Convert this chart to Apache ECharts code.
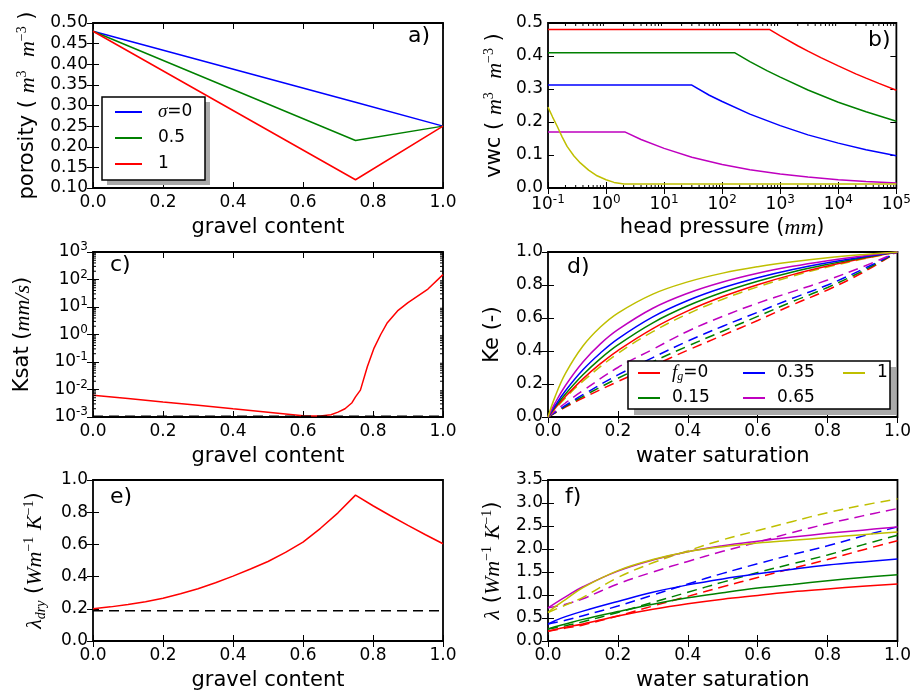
<!DOCTYPE html>
<html><head><meta charset="utf-8">
<script src="https://cdn.jsdelivr.net/npm/echarts@6/dist/echarts.min.js"></script>
<style>html,body{margin:0;padding:0;background:#fff}#c{width:914px;height:695px}</style>
</head><body><div id="c"></div>
<script>
// ---------------- DATA ----------------
// a) porosity vs gravel content
const aBlue  = [[0,0.48],[0.75,0.308],[1,0.25]];
const aGreen = [[0,0.48],[0.75,0.215],[1,0.25]];
const aRed   = [[0,0.48],[0.75,0.12],[1,0.25]];
// b) vwc vs head pressure (log x)
const bRed   = [[0.1,0.48],[660,0.48],[1000,0.461],[2000,0.431],[3000,0.415],[5000,0.395],[10000,0.37],[20000,0.346],[30000,0.333],[50000,0.317],[100000,0.296]];
const bGreen = [[0.1,0.41],[163,0.41],[300,0.383],[600,0.355],[1000,0.336],[3000,0.297],[10000,0.26],[30000,0.231],[100000,0.202]];
const bBlue  = [[0.1,0.312],[30,0.312],[60,0.281],[100,0.262],[300,0.224],[1000,0.189],[3000,0.161],[10000,0.136],[30000,0.116],[100000,0.098]];
const bMag   = [[0.1,0.17],[2.1,0.17],[4,0.147],[10,0.12],[30,0.093],[100,0.071],[300,0.0555],[1000,0.0424],[3000,0.033],[10000,0.0252],[30000,0.0196],[100000,0.015]];
const bYel   = [[0.1,0.245],[0.12,0.215],[0.144,0.187],[0.175,0.155],[0.213,0.126],[0.28,0.097],[0.36,0.076],[0.5,0.054],[0.7,0.037],[1.0,0.025],[1.37,0.017],[2.04,0.012],[100000,0.012]];
// c) Ksat vs gravel content (log y)
const cRed   = [[0,0.0062],[0.1,0.0047],[0.2,0.0035],[0.3,0.0027],[0.4,0.002],[0.5,0.0015],[0.6,0.00112],[0.65,0.00108],[0.68,0.0012],[0.7,0.0015],[0.72,0.002],[0.74,0.0033],[0.75,0.0054],[0.764,0.0095],[0.784,0.069],[0.803,0.32],[0.822,1.0],[0.841,2.7],[0.87,7.2],[0.9,14.5],[0.957,45],[1.0,150]];
const cDash  = [[0,0.00106],[1,0.00106]];
// d) Ke vs water saturation
const dSr = [0,0.02,0.05,0.1,0.15,0.2,0.3,0.4,0.5,0.6,0.7,0.8,0.9,1.0];
const dRed   = [0,0.052,0.124,0.231,0.323,0.403,0.536,0.643,0.730,0.802,0.863,0.915,0.960,1];
const dGreen = [0,0.060,0.140,0.256,0.354,0.437,0.571,0.674,0.756,0.823,0.879,0.925,0.965,1];
const dBlue  = [0,0.068,0.159,0.286,0.388,0.474,0.607,0.706,0.783,0.844,0.894,0.935,0.970,1];
const dMag   = [0,0.084,0.191,0.333,0.443,0.529,0.659,0.750,0.818,0.871,0.913,0.947,0.976,1];
const dYel   = [0,0.122,0.264,0.430,0.545,0.630,0.745,0.819,0.872,0.911,0.941,0.965,0.984,1];
const dSrD = [0,0.05,0.1,0.2,0.3,0.4,0.5,0.6,0.7,0.8,0.9,1.0];
const dRedD   = [0,0.060,0.115,0.215,0.310,0.405,0.495,0.585,0.680,0.770,0.875,1];
const dGreenD = [0,0.065,0.125,0.235,0.335,0.430,0.520,0.610,0.700,0.785,0.885,1];
const dBlueD  = [0,0.070,0.135,0.255,0.360,0.460,0.550,0.635,0.720,0.800,0.895,1];
const dMagD   = [0,0.085,0.160,0.300,0.410,0.520,0.610,0.690,0.760,0.830,0.910,1];
const dYelD   = [0,0.116,0.217,0.385,0.517,0.625,0.714,0.789,0.854,0.909,0.957,1];
// e) lambda_dry vs gravel content
const eRed  = [[0,0.200],[0.05,0.212],[0.1,0.227],[0.15,0.244],[0.2,0.265],[0.25,0.293],[0.3,0.325],[0.35,0.362],[0.4,0.403],[0.45,0.447],[0.5,0.494],[0.55,0.55],[0.6,0.614],[0.65,0.70],[0.7,0.796],[0.75,0.906],[0.8,0.84],[0.85,0.778],[0.9,0.718],[0.95,0.66],[1.0,0.604]];
const eDash = [[0,0.188],[1,0.188]];
// f) lambda vs water saturation
const fSr = [0,0.02,0.05,0.1,0.2,0.3,0.4,0.5,0.6,0.7,0.8,0.9,1.0];
const fRed   = [0.21,0.25,0.30,0.37,0.545,0.69,0.81,0.91,0.99,1.07,1.13,1.19,1.24];
const fGreen = [0.26,0.31,0.37,0.47,0.64,0.80,0.94,1.05,1.15,1.23,1.31,1.38,1.44];
const fBlue  = [0.37,0.44,0.53,0.65,0.86,1.06,1.22,1.35,1.46,1.56,1.65,1.72,1.78];
const fMag   = [0.72,0.82,0.96,1.18,1.52,1.76,1.94,2.07,2.17,2.26,2.34,2.41,2.48];
const fYel   = [0.62,0.74,0.90,1.16,1.53,1.77,1.94,2.05,2.13,2.19,2.25,2.31,2.37];
const fSrD = [0,0.05,0.1,0.2,0.3,0.4,0.5,0.6,0.7,0.8,0.9,1.0];
const fRedD   = [0.21,0.28,0.35,0.545,0.76,0.97,1.18,1.38,1.58,1.77,1.98,2.18];
const fGreenD = [0.26,0.33,0.42,0.62,0.84,1.06,1.28,1.49,1.68,1.87,2.09,2.30];
const fBlueD  = [0.37,0.45,0.55,0.76,1.00,1.24,1.47,1.68,1.88,2.07,2.28,2.48];
const fMagD   = [0.72,0.80,0.92,1.24,1.50,1.73,1.95,2.15,2.36,2.55,2.72,2.88];
const fYelD   = [0.62,0.78,0.95,1.38,1.70,1.96,2.20,2.40,2.60,2.79,2.95,3.09];
// tick helpers
const minorMult = [2,3,4,5,6,7,8,9];
const bDecades = [-1,0,1,2,3,4];
const cDecades = [-3,-2,-1,0,1,2];

// ---------------- STYLE / LAYOUT ----------------
const COL = {b:'#0000ff', g:'#008000', r:'#ff0000', m:'#bf00bf', y:'#bfbf00'};
const GW = 350, GH = 165;
const gridPos = [[93,23],[548,23],[93,252],[548,252],[93,480],[548,480]];
const SANS = 'DejaVu Sans', SERIF = 'Liberation Serif';
const nameRich = {
  m:{fontFamily:SERIF, fontStyle:'italic', fontSize:22, lineHeight:26},
  sup:{fontFamily:SERIF, fontSize:14, lineHeight:16, verticalAlign:'top'},
  sub:{fontFamily:SERIF, fontStyle:'italic', fontSize:14, lineHeight:14, verticalAlign:'bottom'}
};
const nameStyle = {fontFamily:SANS, fontSize:21, color:'#000', lineHeight:26, rich:nameRich};
const labRich = {
  b:{fontFamily:SANS, fontSize:17, lineHeight:22},
  s:{fontFamily:SANS, fontSize:12, lineHeight:14, verticalAlign:'top'}
};
function logFmt(v){ const e = Math.round(Math.log10(v)); return '{b|10}{s|' + e + '}'; }

const xAxes = [], yAxes = [];
function addAxes(dim, gi, cfg){
  const base = {gridIndex:gi, type:cfg.type||'value', min:cfg.min, max:cfg.max,
    axisLine:{show:false}, splitLine:{show:false}, minorTick:{show:false},
    axisTick:{show:true, inside:true, length:6, lineStyle:{color:'#000', width:1}}};
  if (cfg.type === 'log') { base.logBase = 10; base.splitNumber = 6; } else base.interval = cfg.interval;
  const main = Object.assign({}, base, {
    position: dim==='x' ? 'bottom' : 'left',
    axisLabel:{show:true, showMinLabel:true, showMaxLabel:true, margin: dim==='x'?6:5,
      formatter: cfg.fmt, fontFamily:SANS, fontSize:17, color:'#000', rich: labRich},
    name: cfg.name || '', nameLocation:'middle', nameGap: cfg.gap, nameRotate: dim==='y'?90:0,
    nameTextStyle: nameStyle
  });
  const sec = Object.assign({}, base, {position: dim==='x' ? 'top' : 'right', axisLabel:{show:false}});
  (dim==='x' ? xAxes : yAxes).push(main, sec);
}
const f1 = v => v.toFixed(1), f2 = v => v.toFixed(2);
// a
addAxes('x',0,{min:0,max:1,interval:0.2,fmt:f1,name:'gravel content',gap:27});
addAxes('y',0,{min:0.1,max:0.5,interval:0.05,fmt:f2,name:'porosity ( {m|m}{sup|3}  {m|m}{sup|−3} )',gap:52});
// b
addAxes('x',1,{type:'log',min:0.1,max:100000,fmt:logFmt,name:'head pressure ({m|mm})',gap:27});
addAxes('y',1,{min:0,max:0.5,interval:0.1,fmt:f1,name:'vwc ( {m|m}{sup|3}  {m|m}{sup|−3} )',gap:40});
// c
addAxes('x',2,{min:0,max:1,interval:0.2,fmt:f1,name:'gravel content',gap:27});
addAxes('y',2,{type:'log',min:0.001,max:1000,fmt:logFmt,name:'Ksat ({m|mm/s})',gap:57});
// d
addAxes('x',3,{min:0,max:1,interval:0.2,fmt:f1,name:'water saturation',gap:27});
addAxes('y',3,{min:0,max:1,interval:0.2,fmt:f1,name:'Ke (-)',gap:42});
// e
addAxes('x',4,{min:0,max:1,interval:0.2,fmt:f1,name:'gravel content',gap:27});
addAxes('y',4,{min:0,max:1,interval:0.2,fmt:f1,name:'{m|λ}{sub|dry} ({m|Wm}{sup|−1} {m|K}{sup|−1})',gap:45});
// f
addAxes('x',5,{min:0,max:1,interval:0.2,fmt:f1,name:'water saturation',gap:27});
addAxes('y',5,{min:0,max:3.5,interval:0.5,fmt:f1,name:'{m|λ} ({m|Wm}{sup|−1} {m|K}{sup|−1})',gap:42});

const grids = gridPos.map(p => ({left:p[0], top:p[1], width:GW, height:GH, show:true,
  borderColor:'#000', borderWidth:1.8, backgroundColor:'transparent', containLabel:false}));

function line(name, data, color, gi, dashed, smooth){
  return {type:'line', name, data, xAxisIndex:2*gi, yAxisIndex:2*gi, symbol:'none', showSymbol:false,
    lineStyle:{color, width:1.5, type: dashed ? [10,6] : 'solid'}, itemStyle:{color},
    smooth: smooth ? 0.4 : false, silent:true, z:2};
}
const zip = (xs, ys) => xs.map((x,i) => [x, ys[i]]);

function minorTicks(gi, dir, vals, other){
  return {type:'custom', xAxisIndex:2*gi, yAxisIndex:2*gi, silent:true, clip:false, z:3,
    data: vals.map(v => dir==='x' ? [v, other] : [other, v]),
    encode:{x:0, y:1},
    renderItem:function(params, api){
      const cs = params.coordSys;
      const p = api.coord([api.value(0), api.value(1)]);
      const st = {stroke:'#000', lineWidth:1};
      const L = 3;
      if (dir === 'x') {
        return {type:'group', children:[
          {type:'line', shape:{x1:p[0], y1:cs.y+cs.height, x2:p[0], y2:cs.y+cs.height-L}, style:st},
          {type:'line', shape:{x1:p[0], y1:cs.y, x2:p[0], y2:cs.y+L}, style:st}]};
      }
      return {type:'group', children:[
        {type:'line', shape:{x1:cs.x, y1:p[1], x2:cs.x+L, y2:p[1]}, style:st},
        {type:'line', shape:{x1:cs.x+cs.width, y1:p[1], x2:cs.x+cs.width-L, y2:p[1]}, style:st}]};
    }};
}
const bMinor = [], cMinor = [];
bDecades.forEach(d => minorMult.forEach(m => bMinor.push(m * Math.pow(10, d))));
cDecades.forEach(d => minorMult.forEach(m => cMinor.push(m * Math.pow(10, d))));

const series = [
  line('s0', aBlue, COL.b, 0), line('s05', aGreen, COL.g, 0), line('s1', aRed, COL.r, 0),
  line('bR', bRed, COL.r, 1), line('bG', bGreen, COL.g, 1), line('bB', bBlue, COL.b, 1),
  line('bM', bMag, COL.m, 1), line('bY', bYel, COL.y, 1),
  line('cR', cRed, COL.r, 2), line('cK', cDash, '#000', 2, true),
  line('fg0d', zip(dSrD,dRedD), COL.r, 3, true, true), line('fg15d', zip(dSrD,dGreenD), COL.g, 3, true, true),
  line('fg35d', zip(dSrD,dBlueD), COL.b, 3, true, true), line('fg65d', zip(dSrD,dMagD), COL.m, 3, true, true),
  line('fg1d', zip(dSrD,dYelD), COL.y, 3, true, true),
  line('fg0', zip(dSr,dRed), COL.r, 3, false, true), line('fg15', zip(dSr,dGreen), COL.g, 3, false, true),
  line('fg35', zip(dSr,dBlue), COL.b, 3, false, true), line('fg65', zip(dSr,dMag), COL.m, 3, false, true),
  line('fg1', zip(dSr,dYel), COL.y, 3, false, true),
  line('eR', eRed, COL.r, 4), line('eK', eDash, '#000', 4, true),
  line('fg0fd', zip(fSrD,fRedD), COL.r, 5, true, true), line('fg15fd', zip(fSrD,fGreenD), COL.g, 5, true, true),
  line('fg35fd', zip(fSrD,fBlueD), COL.b, 5, true, true), line('fg65fd', zip(fSrD,fMagD), COL.m, 5, true, true),
  line('fg1fd', zip(fSrD,fYelD), COL.y, 5, true, true),
  line('fg0f', zip(fSr,fRed), COL.r, 5, false, true), line('fg15f', zip(fSr,fGreen), COL.g, 5, false, true),
  line('fg35f', zip(fSr,fBlue), COL.b, 5, false, true), line('fg65f', zip(fSr,fMag), COL.m, 5, false, true),
  line('fg1f', zip(fSr,fYel), COL.y, 5, false, true),
  minorTicks(1, 'x', bMinor, 0.25), minorTicks(2, 'y', cMinor, 0.5)
];

const legLabels = {s0:'{m|σ}=0', s05:'0.5', s1:'1', fg0:'{m|f}{sub|g}=0', fg15:'0.15', fg35:'0.35', fg65:'0.65', fg1:'1'};
const legRich = {
  m:{fontFamily:SERIF, fontStyle:'italic', fontSize:19, lineHeight:20},
  sub:{fontFamily:SERIF, fontStyle:'italic', fontSize:12, lineHeight:12, verticalAlign:'bottom'}
};
function legend(left, top, data, iw, gap, pad){
  return {left, top, orient:'vertical', data, icon:'rect', itemWidth:iw, itemHeight:2, itemGap:gap, padding:0,
    selectedMode:false, z:100, formatter: n => legLabels[n],
    textStyle:{fontFamily:SANS, fontSize:17, color:'#000', lineHeight:20, padding:[0,0,0,pad], rich:legRich}};
}
const legends = [
  legend(115, 102, ['s0','s05','s1'], 27, 6, 11),
  legend(638, 363, ['fg0','fg15'], 22, 5, 7),
  legend(743, 363, ['fg35','fg65'], 22, 5, 7),
  legend(843, 363, ['fg1'], 22, 5, 7)
];

const lab = (t, x, y) => ({type:'text', left:x, top:y, z:60, style:{text:t, font:'22px "DejaVu Sans"', fill:'#000'}});
const graphics = [
  {type:'rect', shape:{x:107, y:102, width:103, height:83}, style:{fill:'#aaaaaa'}, z:49},
  {type:'rect', shape:{x:102, y:97, width:103, height:83}, style:{fill:'#fff', stroke:'#000', lineWidth:1.5}, z:50},
  {type:'rect', shape:{x:634, y:367, width:262, height:48}, style:{fill:'#aaaaaa'}, z:49},
  {type:'rect', shape:{x:628, y:361, width:262, height:48}, style:{fill:'#fff', stroke:'#000', lineWidth:1.5}, z:50},
  lab('a)', 408, 25), lab('b)', 868, 29), lab('c)', 110, 254), lab('d)', 567, 256), lab('e)', 110, 486), lab('f)', 565, 486)
];

const chart = echarts.init(document.getElementById('c'), null, {renderer:'canvas'});
chart.setOption({animation:false, backgroundColor:'#fff', grid:grids, xAxis:xAxes, yAxis:yAxes,
  series, legend:legends, graphic:graphics});
</script></body></html>
